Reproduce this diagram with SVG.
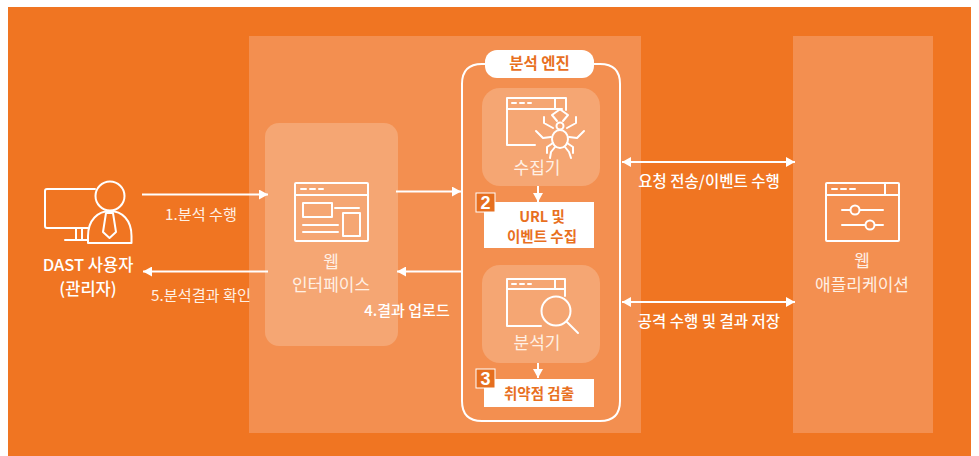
<svg xmlns="http://www.w3.org/2000/svg" width="979" height="456" viewBox="0 0 979 456">
<style>
text{font-family:"Noto Sans CJK KR","Noto Sans",sans-serif;text-anchor:middle;fill:#fff}
.l{fill:#fff0e4;font-size:17px;font-weight:400}
.s{font-size:15.2px;fill:#fff0e4;font-weight:400}
.b{font-size:15px;font-weight:500}
.t{font-size:15.5px;font-weight:500}
.u{font-size:16.5px;font-weight:500}
.o{font-size:14.5px;font-weight:700;fill:#e8701f}
.n{font-size:18px;font-weight:700;font-family:"Liberation Sans",sans-serif}
.i{fill:none;stroke:#fff;stroke-width:2;stroke-linejoin:round;stroke-linecap:round}
.c{fill:none;stroke:#fff;stroke-width:2}
.panel{fill:#f38f50}
.box{fill:#f5a673}
</style>
<defs>
<marker id="a" markerUnits="userSpaceOnUse" markerWidth="9" markerHeight="10" refX="9" refY="5" orient="auto-start-reverse"><path d="M0 0L9 5L0 10Z" fill="#fff"/></marker>
</defs>
<rect width="979" height="456" fill="#fff"/>
<rect x="8" y="7" width="963" height="449" fill="#f07522"/>
<rect class="panel" x="249" y="36" width="392" height="397"/>
<rect class="panel" x="793" y="36" width="140" height="397"/>

<g id="user">
<path class="i" d="M95 189H47a2 2 0 0 0-2 2v35a2 2 0 0 0 2 2h41M65 240H88M76 229V240M82 229V240"/>
<circle class="i" cx="110" cy="196" r="14.500"/>
<path class="i" d="M88 243V236C88 220 98 211 110 211S131.500 220 131.500 236V243Z"/>
<path class="i" d="M106 213L103 232L109.500 238L116 232L113 213Z"/>
<text class="u" x="88" y="271">DAST 사용자</text>
<text class="u" x="88" y="295">(관리자)</text>
</g>

<g id="web-interface">
<rect class="box" x="265" y="123" width="133" height="223" rx="14"/>
<rect class="i" x="295" y="183" width="73" height="58" rx="1"/>
<path class="i" d="M295 195H368M301 189H306M310 189H315M319 189H323M335 208H359M303 225H338M303 232H338"/>
<rect class="i" x="303" y="203" width="29" height="14"/>
<rect class="i" x="343" y="213" width="17" height="23"/>
<text class="l" x="331" y="268">웹</text>
<text class="l" x="331" y="291">인터페이스</text>
</g>

<g id="engine">
<path class="c" d="M485 64H482Q462 64 462 84V401Q462 421 482 421H600Q620 421 620 401V84Q620 64 600 64H594"/>
<rect x="485" y="50" width="109" height="28" rx="12" fill="#fff"/>
<text class="o" x="539.500" y="69" style="font-size:15.500px">분석 엔진</text>
</g>

<g id="collector">
<rect class="box" x="482" y="88" width="118" height="98" rx="18"/>
<path class="i" d="M566 110V98H507V145H535M507 109H562M555 98V109M512 103H516M520 103H524M528 103H531"/>
<ellipse class="i" cx="560" cy="139" rx="8" ry="9"/>
<circle class="i" cx="560" cy="126" r="3.500"/>
<path class="i" d="M557 121L552 115L559 110M563 121L568 115L561 110M553 128L544 123L544 117M567 128L576 123L576 117M551 137L543 138L536 131M569 137L577 138L584 131M553 143L547 147L547 153M567 143L573 147L573 153M555 147L551 152L550 158M565 147L569 152L571 158"/>
<text class="l" x="537" y="174">수집기</text>
</g>

<g id="collect-result">
<rect x="484" y="202" width="110" height="46" fill="#fff"/>
<rect x="476" y="193" width="19" height="19" fill="#e66f1f" stroke="#fff"/>
<text class="n" x="485.500" y="209">2</text>
<text class="o" x="542" y="222">URL 및</text>
<text class="o" x="542" y="242">이벤트 수집</text>
</g>

<g id="analyzer">
<rect class="box" x="482" y="265" width="118" height="98" rx="18"/>
<path class="i" d="M541 326H507V279H565V296M507 289H565M555 279V289M512 284H516M520 284H524M528 284H531"/>
<circle class="i" cx="556" cy="311" r="14.500"/>
<path class="i" d="M567 322L578 333"/>
<text class="l" x="537" y="349">분석기</text>
</g>

<g id="detect-result">
<rect x="484" y="379" width="110" height="28" fill="#fff"/>
<rect x="476" y="369" width="19" height="19" fill="#e66f1f" stroke="#fff"/>
<text class="n" x="485.500" y="385">3</text>
<text class="o" x="539" y="399">취약점 검출</text>
</g>

<g id="web-app">
<rect class="i" x="826" y="183" width="73" height="58" rx="1"/>
<path class="i" d="M826 195H899M885 183V195M832 189H837M841 189H846M850 189H855M842 210H883M842 225H883"/>
<circle cx="855" cy="210" r="4.500" fill="#f38f50" stroke="#fff" stroke-width="2"/>
<circle cx="870" cy="225" r="4.500" fill="#f38f50" stroke="#fff" stroke-width="2"/>
<text class="l" x="862" y="267">웹</text>
<text class="l" x="862" y="291">애플리케이션</text>
</g>

<g id="connectors">
<path class="c" d="M142 194.500H268" marker-end="url(#a)"/>
<path class="c" d="M268 271.500H143" marker-end="url(#a)"/>
<path class="c" d="M396 191.500H461" marker-end="url(#a)"/>
<path class="c" d="M461 271.500H397" marker-end="url(#a)"/>
<path class="c" d="M538 186V202" marker-end="url(#a)"/>
<path class="c" d="M538 363V378" marker-end="url(#a)"/>
<path class="c" d="M622 162H795" marker-start="url(#a)" marker-end="url(#a)"/>
<path class="c" d="M622 302H795" marker-start="url(#a)" marker-end="url(#a)"/>
<text class="s" x="201" y="220">1.분석 수행</text>
<text class="s" x="201" y="301">5.분석결과 확인</text>
<text class="b" x="407" y="316">4.결과 업로드</text>
<text class="t" x="709" y="187">요청 전송/이벤트 수행</text>
<text class="t" x="709" y="327">공격 수행 및 결과 저장</text>
</g>
</svg>
